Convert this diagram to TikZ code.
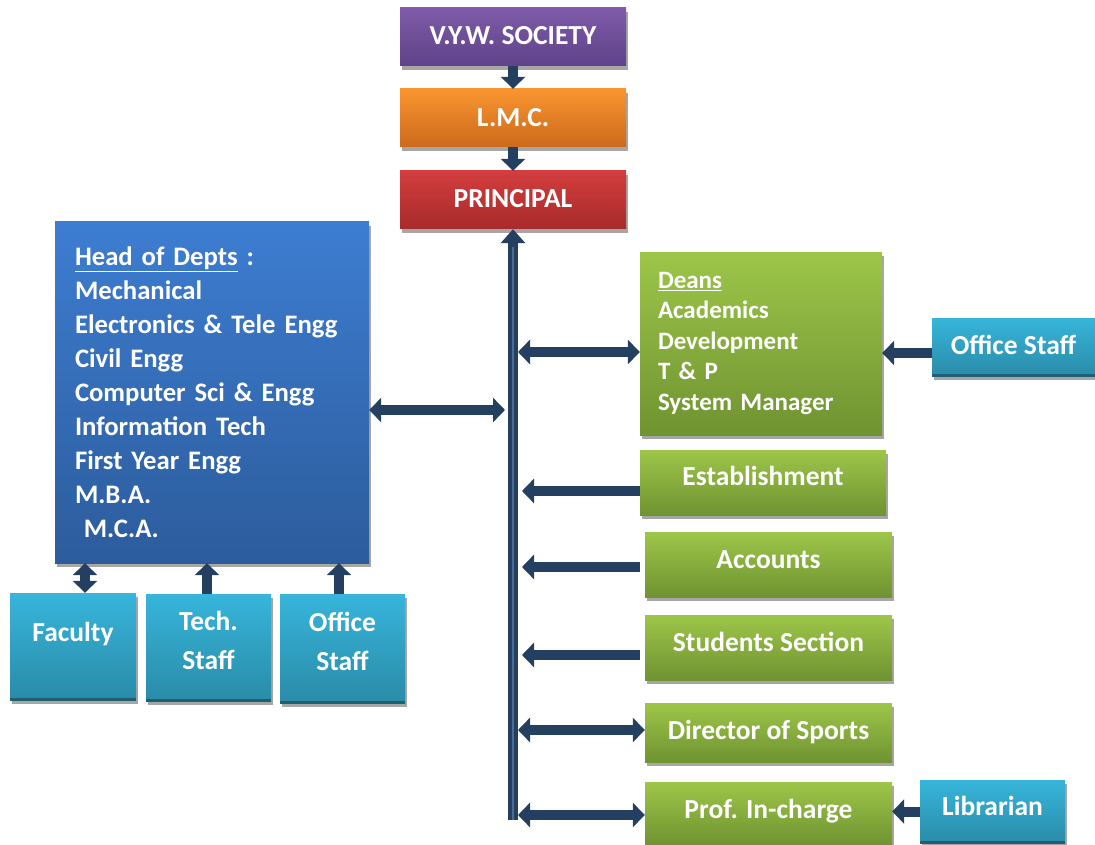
\documentclass[tikz,border=0pt]{standalone}
\usepackage{fontspec}
\setmainfont{Carlito}
\usepackage{tikz}
\usetikzlibrary{arrows.meta,shadows}
\definecolor{navy}{HTML}{243F60}
\definecolor{navylight}{HTML}{4C6C94}
\definecolor{shadowgray}{HTML}{A6A6A6}
\definecolor{cyanedge}{HTML}{1F5F70}
\definecolor{purpletop}{HTML}{7E5BA8}
\definecolor{purplebot}{HTML}{5F4288}
\definecolor{orangetop}{HTML}{F9952F}
\definecolor{orangebot}{HTML}{CB6A1D}
\definecolor{redtop}{HTML}{D33D3D}
\definecolor{redbot}{HTML}{A82B2B}
\definecolor{bluetop}{HTML}{3D7DD1}
\definecolor{bluebot}{HTML}{2C5C9C}
\definecolor{greentop}{HTML}{9DC649}
\definecolor{greenbot}{HTML}{6F9331}
\definecolor{cyantop}{HTML}{37B5DB}
\definecolor{cyanbot}{HTML}{2A8BA8}
\tikzset{orgbox/.style={inner sep=0pt, text=white, font=\fontsize{27.5}{33}\selectfont\bfseries,
    drop shadow={shadow xshift=2pt, shadow yshift=-4pt, fill=shadowgray, opacity=1}},
  lift/.style={text height=#1, text depth=0pt},
  purplebox/.style={orgbox, top color=purpletop, bottom color=purplebot},
  orangebox/.style={orgbox, top color=orangetop, bottom color=orangebot},
  redbox/.style={orgbox, top color=redtop, bottom color=redbot},
  bluebox/.style={orgbox, top color=bluetop, bottom color=bluebot},
  greenbox/.style={orgbox, top color=greentop, bottom color=greenbot},
  cyanbox/.style={orgbox, top color=cyantop, bottom color=cyanbot,
    path picture={\draw[cyanedge, line width=5pt] (path picture bounding box.south west) -- (path picture bounding box.south east);}},
  link/.style={navy, line width=10pt, -{Triangle[length=12pt,width=24pt]}},
  linkboth/.style={navy, line width=10pt, {Triangle[length=12pt,width=24pt]}-{Triangle[length=12pt,width=24pt]}},
  trunk/.style={navy, line width=10pt, -{Triangle[length=14pt,width=24pt]}}
}

\begin{document}
\begin{tikzpicture}[x=1pt,y=-1pt]
  \useasboundingbox (0,0) rectangle (1095,845);

  \node[purplebox, lift=14.4pt, minimum width=226, minimum height=58] (vyw) at (513,37) {V.Y.W. SOCIETY};
  \node[orangebox, lift=17.9pt, minimum width=226, minimum height=58] (lmc) at (513,118) {L.M.C.};
  \node[redbox, lift=14.6pt, minimum width=226, minimum height=58] (principal) at (513,200) {PRINCIPAL};

  \node[bluebox, text width=274, inner xsep=20pt, minimum height=341, align=left,
    font=\fontsize{26.7}{34}\selectfont\bfseries] (hod) at (212,392.5)
    {\underline{Head of Depts} :\\ Mechanical\\ Electronics \& Tele Engg\\ Civil Engg\\ Computer Sci \& Engg\\
     Information Tech\\ First Year Engg\\ M.B.A.\\ \ M.C.A.};

  \node[cyanbox, minimum width=126, minimum height=107, text height=20pt, text depth=31pt] (faculty) at (73,646.5) {Faculty};
  \node[cyanbox, minimum width=125, minimum height=107, align=center,
    font=\fontsize{27.5}{39}\selectfont\bfseries] (tech) at (208.5,647.5) {Tech.\\ Staff\\[-25pt]\mbox{}};
  \node[cyanbox, minimum width=125, minimum height=109, align=center,
    font=\fontsize{27.5}{39}\selectfont\bfseries] (offb) at (342.5,648.5) {Office\\ Staff\\[-25pt]\mbox{}};

  \node[greenbox, text width=206, inner xsep=18pt, minimum height=183, align=left,
    font=\fontsize{25}{30.5}\selectfont\bfseries] (deans) at (761,343.5)
    {\underline{Deans}\\ Academics\\ Development\\ T \& P\\ System Manager};
  \node[cyanbox, lift=14.6pt, minimum width=163, minimum height=58] (offr) at (1013.5,347) {Office Staff};

  \node[greenbox, lift=5.2pt, minimum width=246, minimum height=65] (est) at (763,482.5) {Establishment};
  \node[greenbox, lift=8.6pt, minimum width=247, minimum height=65] (acc) at (768.5,564.5) {Accounts};
  \node[greenbox, lift=8.6pt, minimum width=247, minimum height=65] (stu) at (768.5,647.5) {Students Section};
  \node[greenbox, lift=14.2pt, minimum width=247, minimum height=59] (sports) at (768.5,732.5) {Director of Sports};
  \node[greenbox, lift=9.3pt, minimum width=247, minimum height=63] (prof) at (768.5,813.5) {Prof. In-charge};
  \node[cyanbox, lift=8.6pt, minimum width=145, minimum height=63] (lib) at (992.5,811.5) {Librarian};

  % top chain
  \draw[link] (vyw) -- (lmc);
  \draw[link] (lmc) -- (principal);

  % trunk
  \coordinate (barend) at (513,820);
  \draw[trunk] (barend) -- (principal.south);
  \draw[navylight, line width=1.5pt] (barend) -- ([yshift=-18pt]principal.south);

  \coordinate (hodtip) at (505,410);
  \coordinate (deantip) at (518,352);
  \coordinate (esttip) at (522,491);
  \coordinate (acctip) at (522,567);
  \coordinate (stutip) at (522,655);
  \coordinate (sportip) at (518,730);
  \coordinate (proftip) at (518,815);

  \draw[linkboth] (hod.east |- hodtip) -- (hodtip);
  \draw[linkboth] (deantip) -- (deans.west |- deantip);
  \draw[link] (est.west |- esttip) -- (esttip);
  \draw[link] ([xshift=-5pt]acc.west |- acctip) -- (acctip);
  \draw[link] ([xshift=-5pt]stu.west |- stutip) -- (stutip);
  \draw[linkboth] (sportip) -- (sports.west |- sportip);
  \draw[linkboth] (proftip) -- (prof.west |- proftip);

  % side staff
  \coordinate (offrtail) at ([yshift=-6pt]offr.west);
  \draw[link] (offrtail) -- (offrtail -| deans.east);
  \draw[link] (lib.west) -- (lib.west -| prof.east);

  % department staff
  \coordinate (factop) at ([xshift=12pt]faculty.north);
  \coordinate (techtop) at ([xshift=-1.5pt]tech.north);
  \coordinate (offtop) at ([xshift=-3.5pt]offb.north);
  \draw[linkboth] (factop) -- (factop |- hod.south);
  \draw[link] (techtop) -- (techtop |- hod.south);
  \draw[link] (offtop) -- (offtop |- hod.south);
\end{tikzpicture}
\end{document}
